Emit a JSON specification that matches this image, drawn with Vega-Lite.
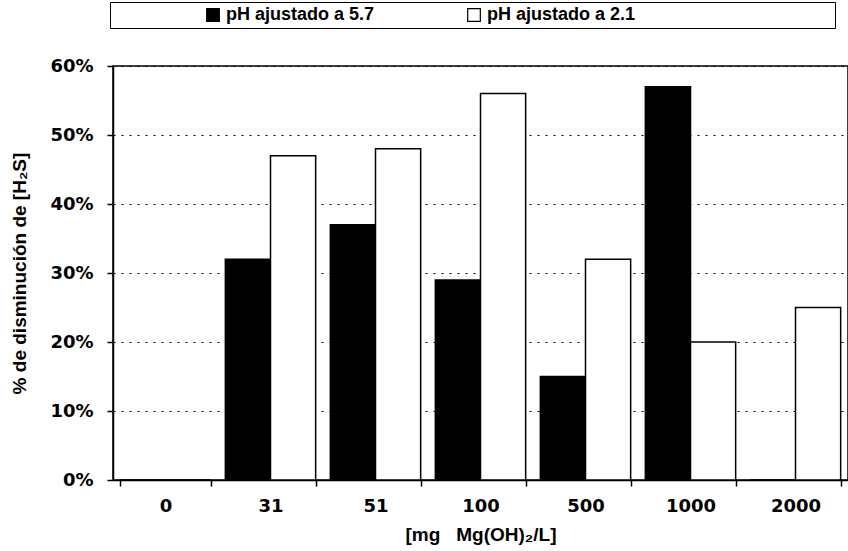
{
  "$schema": "https://vega.github.io/schema/vega-lite/v6.json",
  "width": 735,
  "height": 414,
  "autosize": {"type": "none"},
  "padding": {"left": 113, "top": 66, "right": 0, "bottom": 71},
  "background": "white",
  "config": {
    "font": "Liberation Sans",
    "view": {"stroke": "black", "strokeWidth": 1.5},
    "axis": {
      "labelFont": "DejaVu Sans",
      "labelFontWeight": "bold",
      "labelFontSize": 18,
      "labelColor": "black",
      "titleFont": "Liberation Sans",
      "titleFontWeight": "bold",
      "titleFontSize": 19,
      "titleColor": "black",
      "domainColor": "black",
      "domainWidth": 1.5,
      "tickColor": "black",
      "tickWidth": 1.5,
      "tickSize": 6
    }
  },
  "data": {
    "values": [
      {"dosis": "0", "serie": "pH ajustado a 5.7", "disminucion": 0},
      {"dosis": "0", "serie": "pH ajustado a 2.1", "disminucion": 0},
      {"dosis": "31", "serie": "pH ajustado a 5.7", "disminucion": 0.32},
      {"dosis": "31", "serie": "pH ajustado a 2.1", "disminucion": 0.47},
      {"dosis": "51", "serie": "pH ajustado a 5.7", "disminucion": 0.37},
      {"dosis": "51", "serie": "pH ajustado a 2.1", "disminucion": 0.48},
      {"dosis": "100", "serie": "pH ajustado a 5.7", "disminucion": 0.29},
      {"dosis": "100", "serie": "pH ajustado a 2.1", "disminucion": 0.56},
      {"dosis": "500", "serie": "pH ajustado a 5.7", "disminucion": 0.15},
      {"dosis": "500", "serie": "pH ajustado a 2.1", "disminucion": 0.32},
      {"dosis": "1000", "serie": "pH ajustado a 5.7", "disminucion": 0.57},
      {"dosis": "1000", "serie": "pH ajustado a 2.1", "disminucion": 0.20},
      {"dosis": "2000", "serie": "pH ajustado a 5.7", "disminucion": 0},
      {"dosis": "2000", "serie": "pH ajustado a 2.1", "disminucion": 0.25}
    ]
  },
  "mark": {"type": "bar", "stroke": "black", "strokeWidth": 1.5},
  "encoding": {
    "x": {
      "field": "dosis",
      "type": "nominal",
      "sort": ["0", "31", "51", "100", "500", "1000", "2000"],
      "scale": {"paddingInner": 0.14, "paddingOuter": 0.07},
      "axis": {
        "title": "[mg\u00a0\u00a0 Mg(OH)₂/L]",
        "labelAngle": 0,
        "labelPadding": 11,
        "titlePadding": 10,
        "tickBand": "extent"
      }
    },
    "xOffset": {
      "field": "serie",
      "type": "nominal",
      "sort": ["pH ajustado a 5.7", "pH ajustado a 2.1"],
      "scale": {"paddingInner": 0, "paddingOuter": 0}
    },
    "y": {
      "field": "disminucion",
      "type": "quantitative",
      "scale": {"domain": [0, 0.6], "nice": false},
      "axis": {
        "title": "% de disminución de [H₂S]",
        "format": ".0%",
        "values": [0, 0.1, 0.2, 0.3, 0.4, 0.5, 0.6],
        "labelPadding": 14,
        "titlePadding": 20,
        "grid": true,
        "gridColor": "black",
        "gridWidth": 1,
        "gridDash": [2, 6]
      }
    },
    "fill": {
      "field": "serie",
      "type": "nominal",
      "sort": ["pH ajustado a 5.7", "pH ajustado a 2.1"],
      "scale": {"domain": ["pH ajustado a 5.7", "pH ajustado a 2.1"], "range": ["black", "white"]},
      "legend": {
        "title": null,
        "orient": "none",
        "legendX": -3,
        "legendY": -64,
        "direction": "horizontal",
        "padding": 4,
        "fillColor": "white",
        "strokeColor": "black",
        "symbolType": "square",
        "symbolSize": 160,
        "symbolStrokeColor": "black",
        "symbolStrokeWidth": 1.2,
        "symbolOffset": 90,
        "labelOffset": 4,
        "columnPadding": 0,
        "labelFont": "Liberation Sans",
        "labelFontWeight": "bold",
        "labelFontSize": 18,
        "labelColor": "black",
        "labelLimit": 800,
        "labelExpr": "datum.value == 'pH ajustado a 2.1' ? pad(datum.label, 56, '\u00a0', 'right') + '\u200b' : datum.label"
      }
    }
  }
}
